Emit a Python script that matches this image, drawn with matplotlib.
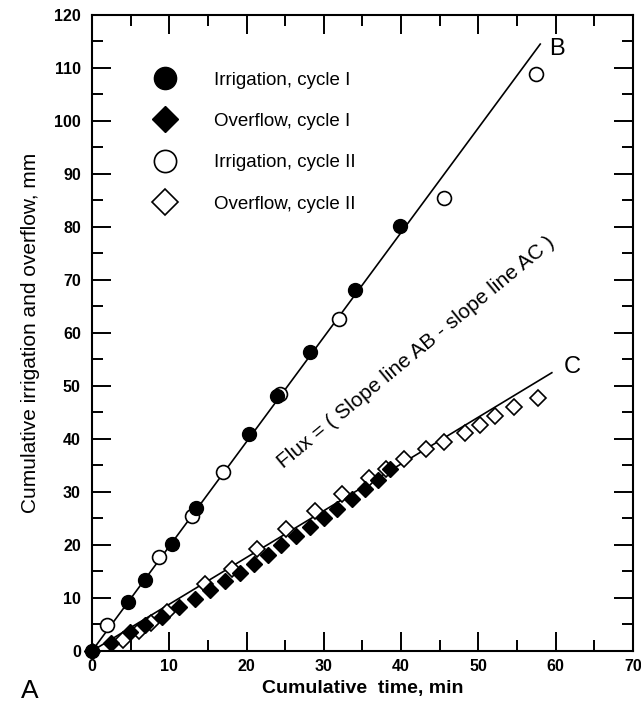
import matplotlib
matplotlib.use("Agg")
import matplotlib.pyplot as plt
from matplotlib.ticker import MultipleLocator

plt.rcParams['font.family'] = ['Liberation Sans', 'DejaVu Sans']

# cumulative time (min) and cumulative depth (mm)
irr1_t = [0, 4.7, 6.8, 10.4, 13.5, 20.3, 24.0, 28.2, 34.0, 39.8]
irr1_mm = [0, 9.3, 13.3, 20.2, 26.9, 40.9, 48.1, 56.5, 68.1, 80.2]

irr2_t = [2.0, 8.7, 12.9, 16.9, 24.3, 31.9, 45.6, 57.4]
irr2_mm = [4.9, 17.8, 25.5, 33.8, 48.4, 62.6, 85.5, 108.9]

ov1_t = [0, 2.5, 4.9, 6.9, 9.0, 11.2, 13.3, 15.3, 17.2, 19.1, 21.0,
         22.8, 24.5, 26.4, 28.2, 30.0, 31.7, 33.6, 35.3, 37.0, 38.6]
ov1_mm = [0, 1.6, 3.5, 4.9, 6.4, 8.3, 9.9, 11.5, 13.2, 14.8, 16.4,
          18.1, 20.0, 21.7, 23.3, 25.0, 26.7, 28.6, 30.5, 32.2, 34.3]

ov2_t = [4.0, 6.1, 7.7, 9.7, 14.6, 18.1, 21.3, 25.1, 28.8, 32.4, 35.8,
         38.0, 40.4, 43.2, 45.6, 48.3, 50.2, 52.2, 54.6, 57.7]
ov2_mm = [2.0, 3.8, 5.3, 7.4, 12.6, 15.4, 19.2, 23.0, 26.4, 29.6, 32.6,
          34.3, 36.2, 38.1, 39.5, 41.2, 42.6, 44.3, 46.0, 47.8]

# fitted lines A-B and A-C
ab_t = [0, 58.0]
ab_mm = [0, 114.5]
ac_t = [0, 59.5]
ac_mm = [0, 52.5]

fig = plt.figure(figsize=(6.41, 7.11), dpi=100)
ax = fig.add_axes([0.1435, 0.0844, 0.844, 0.8946])

ax.plot(ab_t, ab_mm, color='black', lw=1.2, zorder=2)
ax.plot(ac_t, ac_mm, color='black', lw=1.2, zorder=2)

ax.plot(irr1_t, irr1_mm, 'o', color='black', ms=10, clip_on=False,
        label='Irrigation, cycle I', zorder=4)
ax.plot(ov1_t, ov1_mm, 'D', color='black', ms=8.5, clip_on=False,
        label='Overflow, cycle I', zorder=4)
ax.plot(irr2_t, irr2_mm, 'o', mfc='white', mec='black', mew=1.2, ms=10,
        clip_on=False, label='Irrigation, cycle II', zorder=3)
ax.plot(ov2_t, ov2_mm, 'D', mfc='white', mec='black', mew=1.2, ms=8.5,
        clip_on=False, label='Overflow, cycle II', zorder=3)

ax.set_xlim(0, 70)
ax.set_ylim(0, 120)
ax.xaxis.set_major_locator(MultipleLocator(10))
ax.xaxis.set_minor_locator(MultipleLocator(5))
ax.yaxis.set_major_locator(MultipleLocator(10))
ax.yaxis.set_minor_locator(MultipleLocator(5))
ax.tick_params(which='both', direction='in', top=True, right=True, width=1.4)
ax.tick_params(which='major', length=14)
ax.tick_params(which='minor', length=8)
ax.tick_params(axis='y', pad=8, labelsize=11.5)
ax.tick_params(axis='x', pad=6, labelsize=11.5)
for lab in ax.get_xticklabels() + ax.get_yticklabels():
    lab.set_fontweight('bold')
for sp in ax.spines.values():
    sp.set_linewidth(1.5)

ax.set_xlabel('Cumulative  time, min', fontsize=14, fontweight='bold', labelpad=4)
ax.set_ylabel('Cumulative irrigation and overflow, mm', fontsize=15, labelpad=10)

ax.legend(loc='upper left', bbox_to_anchor=(0.1176, 0.911), frameon=False,
          fontsize=13.5, markerscale=1.6, handlelength=1.0, handletextpad=2.1,
          labelspacing=1.29, borderpad=0, borderaxespad=0)

ax.text(42.0, 56.3, 'Flux = ( Slope line AB - slope line AC )', rotation=39.5,
        rotation_mode='anchor', ha='center', va='center', fontsize=15)
ax.text(59.2, 113.5, 'B', fontsize=17, ha='left', va='center')
ax.text(61.0, 53.5, 'C', fontsize=17, ha='left', va='center')
ax.text(-8.0, -7.5, 'A', fontsize=19, ha='center', va='center', clip_on=False)

fig.savefig('out.png', dpi=100)
